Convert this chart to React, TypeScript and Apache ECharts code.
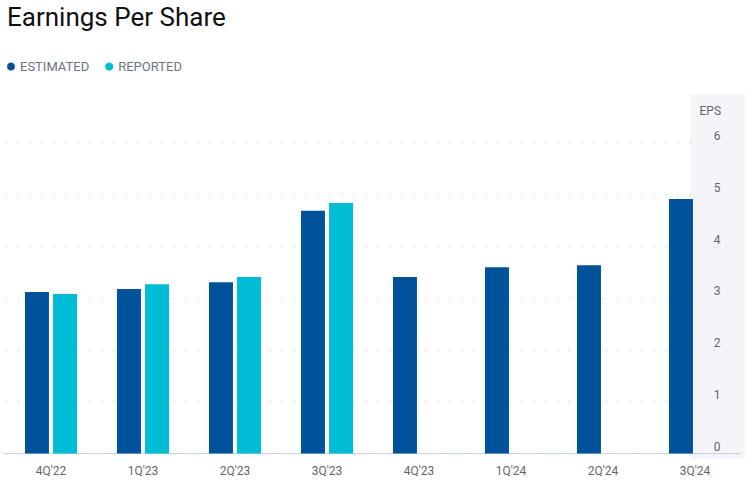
import React, { useEffect, useRef } from "react";
import * as echarts from "echarts";

const categories = ["4Q'22", "1Q'23", "2Q'23", "3Q'23", "4Q'23", "1Q'24", "2Q'24", "3Q'24"];
const estimated = [3.12, 3.18, 3.31, 4.69, 3.41, 3.6, 3.64, 4.92];
const reported: (number | null)[] = [3.08, 3.27, 3.41, 4.84, null, null, null, null];
const yTicks = { min: 0, max: 6, interval: 1 };

const FONT = "Roboto, 'Noto Sans', sans-serif";

export default function App() {
  const ref = useRef<HTMLDivElement>(null);
  useEffect(() => {
    if (!ref.current) return;
    const chart = echarts.init(ref.current, undefined, { renderer: "svg" });
    chart.setOption({
      animation: false,
      backgroundColor: "#ffffff",
      title: {
        text: "Earnings Per Share",
        left: 2,
        top: -1,
        textStyle: { fontFamily: FONT, fontSize: 26, fontWeight: "normal", color: "#111111" },
      },
      legend: {
        left: 2,
        top: 55,
        icon: "circle",
        itemWidth: 8,
        itemHeight: 8,
        itemGap: 16,
        textStyle: { fontFamily: FONT, fontSize: 13, color: "#6f7580" },
        data: [
          { name: "ESTIMATED", itemStyle: { color: "#00529b" } },
          { name: "REPORTED", itemStyle: { color: "#00bcd4" } },
        ],
      },
      graphic: [
        {
          type: "rect",
          z: -10,
          shape: { x: 690, y: 94, width: 55, height: 365 },
          style: { fill: "#f4f4f9" },
          silent: true,
        },
      ],
      grid: { left: 5, right: 13, top: 143, bottom: 26.5, containLabel: false },
      xAxis: {
        type: "category",
        data: categories,
        axisLine: { show: true, lineStyle: { color: "#c5d3e8", width: 1 } },
        axisTick: { show: false },
        axisLabel: { fontFamily: FONT, fontSize: 12, color: "#666666", margin: 11 },
      },
      yAxis: {
        type: "value",
        position: "right",
        min: yTicks.min,
        max: yTicks.max,
        interval: yTicks.interval,
        name: "EPS",
        nameLocation: "end",
        nameGap: 26,
        nameTextStyle: { fontFamily: FONT, fontSize: 12, color: "#666666", align: "right", padding: [0, 20, 0, 0] },
        axisLine: { show: false },
        axisTick: { show: false },
        axisLabel: {
          inside: true,
          margin: 24,
          align: "center",
          verticalAlign: "bottom",
          padding: [0, 0, 1, 0],
          fontFamily: FONT,
          fontSize: 12,
          color: "#666666",
        },
        splitLine: { show: true, lineStyle: { color: "#e3e3e3", width: 1.5, type: [2, 10] } },
      },
      series: [
        {
          name: "ESTIMATED",
          type: "bar",
          data: estimated,
          barWidth: 24,
          barGap: "17%",
          itemStyle: { color: "#00529b" },
        },
        {
          name: "REPORTED",
          type: "bar",
          data: reported,
          barWidth: 24,
          barGap: "17%",
          itemStyle: { color: "#00bcd4" },
        },
      ],
    });
    return () => chart.dispose();
  }, []);
  return (
    <div
      ref={ref}
      style={{ position: "absolute", left: 0, top: 0, width: 754, height: 480, background: "#fff" }}
    />
  );
}
